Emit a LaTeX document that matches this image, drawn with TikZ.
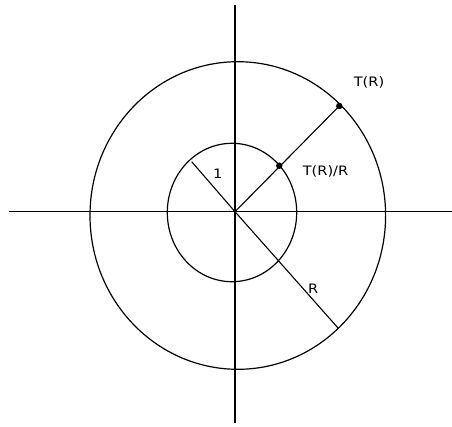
\documentclass[tikz,border=0pt]{standalone}
\usepackage{fontspec}
\setmainfont{DejaVu Sans}
\newfontfamily\lblfont[FakeStretch=1.12]{DejaVu Sans}
\usetikzlibrary{positioning}

\begin{document}
\begin{tikzpicture}[
  x=1pt, y=-1pt,
  axis/.style={line width=1.4pt},
  ring/.style={line width=1.2pt},
  ray/.style={line width=1.1pt},
  dot/.style={circle, fill=black, inner sep=0pt, minimum size=6.5pt},
  lbl/.style={font=\lblfont\fontsize{13}{15}\selectfont, inner sep=0pt}
]
\useasboundingbox (0,0) rectangle (452,426);
\coordinate (O) at (235,211.7);
\coordinate (top) at (235,5);
\coordinate (bot) at (235,423);
\coordinate (left) at (9,211.7);
\coordinate (right) at (452,211.7);

% axes
\draw[axis] (top) -- (bot);
\draw[axis] (left) -- (right);

% circles
\draw[ring] (232,212.5) ellipse [x radius=64.7, y radius=69.2];
\draw[ring] (237.8,215.5) ellipse [x radius=147.8, y radius=153.8];

% points and rays
\node[dot] (tr) at (339.3,106) {};
\node[dot] (trr) at (279.3,165.7) {};
\coordinate (one) at (191.7,161.7);
\coordinate (bigR) at (338.3,328.3);
\draw[ray] (O) -- (tr.center);
\draw[ray] (O) -- (one);
\draw[ray] (O) -- (bigR);

\node[lbl] (trlbl) at (369,82) {T(R)};
\node[lbl] (trrlbl) at (325.5,171.5) {T(R)/R};
\node[lbl] (onelbl) at (217.7,173.3) {1};
\node[lbl] (rlbl) at (313.3,288.3) {R};
\end{tikzpicture}
\end{document}
